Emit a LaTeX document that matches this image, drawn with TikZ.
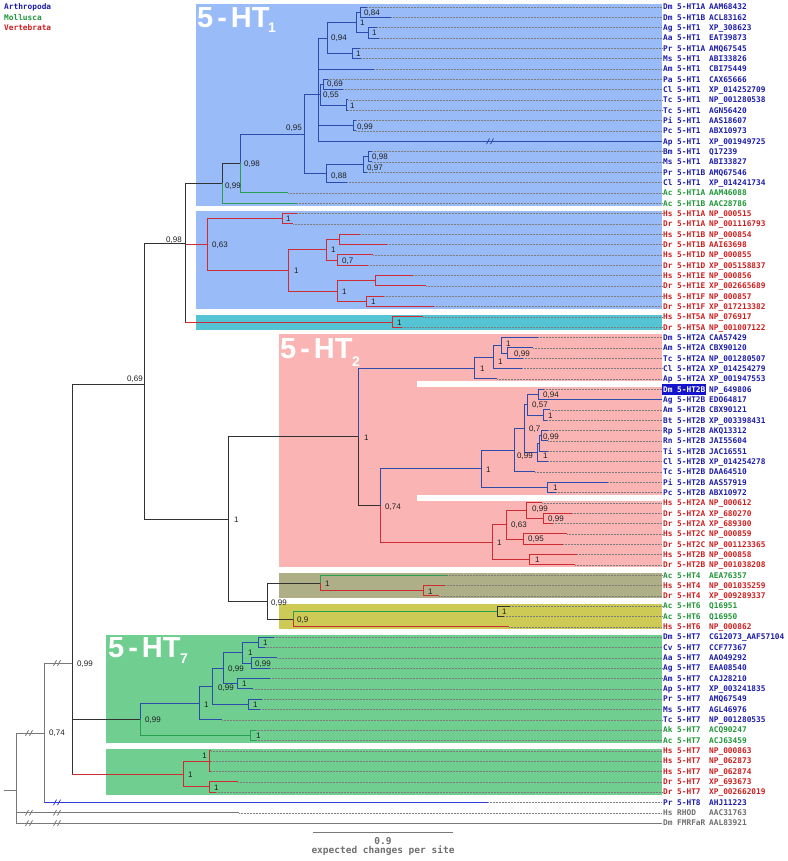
\documentclass[tikz,border=0pt]{standalone}
\usepackage{fontspec}
\setmainfont{Liberation Sans}
\newfontfamily\labfont{DejaVu Sans Mono}
\newfontfamily\titfont{Liberation Sans}
\definecolor{cA}{RGB}{28,28,170}
\definecolor{cM}{RGB}{30,150,55}
\definecolor{cV}{RGB}{205,30,30}
\definecolor{cG}{RGB}{110,110,110}
\definecolor{cHi}{RGB}{20,20,205}
\definecolor{bInv}{RGB}{45,75,170}
\definecolor{bVer}{RGB}{205,45,50}
\definecolor{bMol}{RGB}{40,160,80}
\definecolor{bBlk}{RGB}{50,50,50}
\definecolor{bGry}{RGB}{120,120,120}
\definecolor{bBl8}{RGB}{50,60,220}
\definecolor{cDot}{RGB}{125,125,125}
\definecolor{cSup}{RGB}{30,30,30}
\definecolor{boxB}{RGB}{153,187,247}
\definecolor{boxC}{RGB}{84,196,212}
\definecolor{boxP}{RGB}{250,180,180}
\definecolor{boxO}{RGB}{175,175,135}
\definecolor{boxY}{RGB}{205,203,85}
\definecolor{boxG}{RGB}{112,206,145}
\begin{document}
\begin{tikzpicture}[x=1pt,y=-1pt,
  brl/.style={line width=0.95pt},
  inv/.style={brl,draw=bInv},
  ver/.style={brl,draw=bVer},
  mol/.style={brl,draw=bMol},
  blk/.style={brl,draw=bBlk},
  gry/.style={brl,draw=bGry},
  bleight/.style={brl,draw=bBl8},
  dots/.style={draw=cDot,line width=0.45pt,dash pattern=on 0.5pt off 1pt},
  sup/.style={font=\fontsize{8}{9}\selectfont,text=cSup,inner sep=0pt,anchor=base west},
  supl/.style={sup,anchor=base east},
  lab/.style={font=\labfont\bfseries\fontsize{7.8}{9}\selectfont,inner sep=0pt,anchor=base west},
  tit/.style={font=\titfont\bfseries\fontsize{29}{30}\selectfont,text=white,inner sep=0pt,anchor=base west},
  tsub/.style={font=\titfont\bfseries\fontsize{14}{15}\selectfont,text=white,inner sep=0pt,anchor=base west},
  brk/.pic={\draw[pic actions] (-3.5,2.8)--(-0.5,-2.8) (0.5,2.8)--(3.5,-2.8);}
]
\useasboundingbox (0,0) rectangle (787,861);
% ---------- coloured clade boxes
\fill[boxB] (196,4) rectangle (662,206);
\fill[boxB] (196,211) rectangle (662,309);
\fill[boxC] (196,315) rectangle (662,330);
\fill[boxP] (279,334) rectangle (662,567);
\fill[white] (417,381) rectangle (662,387);
\fill[white] (417,495) rectangle (662,501);
\fill[boxO] (279,573) rectangle (662,598);
\fill[boxY] (279,604) rectangle (662,629);
\fill[boxG] (106,635) rectangle (662,743);
\fill[boxG] (106,749) rectangle (662,795);
% ---------- titles
\node[tit] (t1) at (197,27.5) {5\kern4pt-\kern4pt HT};
\node[tsub] (t1s) at (268,33) {1};
\node[tit] (t2) at (280,358.5) {5\kern4pt-\kern4pt HT};
\node[tsub] (t2s) at (352,366) {2};
\node[tit] (t7) at (108,657) {5\kern4pt-\kern4pt HT};
\node[tsub] (t7s) at (180,663) {7};
% ---------- leaves (branch ends and dotted guides)
\foreach \i/\ex in {1/367,2/391,3/377,4/379,5/360,6/361,7/374,8/328,9/343,10/348,11/348,12/356,13/356,14/662,15/372,16/372,17/367,18/347,19/288,20/297,
21/297,22/293,23/360,24/387,25/373,26/368,27/413,28/426,29/384,30/434,31/423,32/402,
33/538,34/533,35/523,36/522,37/497,38/544,39/662,40/550,41/547,42/548,43/548,44/548,45/548,46/535,47/608,48/556,
49/542,50/572,51/553,52/567,53/563,54/577,55/575,
56/447,57/445,58/439,59/510,60/504,61/509,
62/274,63/265,64/277,65/270,66/270,67/253,68/262,69/260,70/222,71/256,72/256,
73/211,74/211,75/211,76/238,77/216,78/488,79/239,80/662}
{
  \coordinate (L\i) at (\ex,{7+(\i-1)*10.33});
  \coordinate (E\i) at (662,{7+(\i-1)*10.33});
  \draw[dots] (L\i) -- (E\i);
}
% ---------- internal nodes
% 5-HT1 invertebrates
\coordinate (n84) at (360,12.2);
\coordinate (nAgAa) at (368,32.8);
\coordinate (nDm4) at (356,22.5);
\coordinate (nPrMs) at (352,53.5);
\coordinate (nE) at (327,38);
\coordinate (nPaCl) at (323,84.5);
\coordinate (nTcTc) at (346,105.1);
\coordinate (nF) at (320,94.8);
\coordinate (nPiPc) at (353,125.8);
\coordinate (nD) at (318,94);
\coordinate (nBmMs) at (368,156.8);
\coordinate (n97) at (363,164.5);
\coordinate (n88) at (326,173.5);
\coordinate (nC) at (304,134);
\coordinate (nB) at (240,163.5);
\coordinate (nA) at (222,183.4);
% 5-HT1 vertebrates, 5-HT5
\coordinate (n1A) at (282,218.8);
\coordinate (n1B) at (339,239.4);
\coordinate (n1D) at (337,260.1);
\coordinate (nBD) at (326,249.8);
\coordinate (n1E) at (375,280.8);
\coordinate (n1F) at (366,301.4);
\coordinate (nEF) at (337,291.1);
\coordinate (nBDEF) at (288,270.4);
\coordinate (n63) at (207,244.6);
\coordinate (n5) at (392,322.1);
\coordinate (n98) at (185,243);
\coordinate (n69) at (144,384);
% 5-HT2
\coordinate (nAmTc) at (507,353.1);
\coordinate (nDmAmTc) at (501,345.3);
\coordinate (nCl) at (493,357);
\coordinate (n2A) at (474,368);
\coordinate (n94) at (538,394.4);
\coordinate (nAmBt) at (543,415);
\coordinate (n57) at (527,404.7);
\coordinate (nRpRn) at (541,435.7);
\coordinate (nTi) at (539,443.5);
\coordinate (nS) at (537,452.5);
\coordinate (nR) at (524,428.6);
\coordinate (nP) at (514,450);
\coordinate (nPiPc2) at (547,487.3);
\coordinate (n481) at (481,468.7);
\coordinate (n2Adr) at (543,518.3);
\coordinate (nHs2A) at (526,510.6);
\coordinate (n2C) at (523,539);
\coordinate (n63b) at (506,524.8);
\coordinate (n2B) at (529,559.7);
\coordinate (nV2) at (492,542.2);
\coordinate (n74) at (380,505.5);
\coordinate (n2root) at (358,436.8);
\coordinate (n1big) at (228,519);
% 5-HT4, 5-HT6
\coordinate (n99b) at (267,601);
\coordinate (n4) at (320,583);
\coordinate (n4v) at (423,590.6);
\coordinate (n6ac) at (497,611.3);
\coordinate (n6) at (293,619);
% 5-HT7
\coordinate (nDmCv) at (258,642.3);
\coordinate (nAaAg) at (251,663);
\coordinate (n7a) at (242,652.6);
\coordinate (nAmAp) at (237,683.6);
\coordinate (n7b) at (223,668);
\coordinate (nPrMs7) at (248,704.3);
\coordinate (n7c) at (212,686);
\coordinate (n7d) at (199,703);
\coordinate (nMoll7) at (250,735.3);
\coordinate (n7inv) at (140,719);
\coordinate (nHs7) at (209,761.1);
\coordinate (nDr7) at (209,786.9);
\coordinate (nV7) at (183,774);
\coordinate (n99c) at (72,663);
\coordinate (n74root) at (44,733);
\coordinate (nRoot) at (16,790);
\coordinate (r0) at (4,790);
% ---------- branches
\foreach \p/\c/\s in {
 n84/L1/inv,n84/L2/inv,nAgAa/L3/inv,nAgAa/L4/inv,nDm4/n84/inv,nDm4/nAgAa/inv,nPrMs/L5/inv,nPrMs/L6/inv,
 nE/nDm4/inv,nE/nPrMs/inv,nPaCl/L8/inv,nPaCl/L9/inv,nTcTc/L10/inv,nTcTc/L11/inv,nF/nPaCl/inv,nF/nTcTc/inv,
 nPiPc/L12/inv,nPiPc/L13/inv,nD/nE/inv,nD/L7/inv,nD/nF/inv,nD/nPiPc/inv,nD/L14/inv,nBmMs/L15/inv,nBmMs/L16/inv,
 n97/nBmMs/inv,n97/L17/inv,n88/n97/inv,n88/L18/inv,nC/nD/inv,nC/n88/inv,nB/nC/inv,
 nB/L19/mol,nA/L20/mol,nA/nB/blk,n98/nA/blk,n69/n98/blk,n69/n1big/blk,n1big/n2root/blk,n1big/n99b/blk,
 n1A/L21/ver,n1A/L22/ver,n1B/L23/ver,n1B/L24/ver,n1D/L25/ver,n1D/L26/ver,nBD/n1B/ver,nBD/n1D/ver,
 n1E/L27/ver,n1E/L28/ver,n1F/L29/ver,n1F/L30/ver,nEF/n1E/ver,nEF/n1F/ver,nBDEF/nBD/ver,nBDEF/nEF/ver,
 n63/n1A/ver,n63/nBDEF/ver,n98/n63/ver,n98/n5/ver,n5/L31/ver,n5/L32/ver,
 nAmTc/L34/inv,nAmTc/L35/inv,nDmAmTc/L33/inv,nDmAmTc/nAmTc/inv,nCl/nDmAmTc/inv,nCl/L36/inv,n2A/nCl/inv,n2A/L37/inv,
 n2root/n2A/inv,n94/L38/inv,n94/L39/inv,nAmBt/L40/inv,nAmBt/L41/inv,n57/n94/inv,n57/nAmBt/inv,
 nRpRn/L42/inv,nRpRn/L43/inv,nTi/nRpRn/inv,nTi/L44/inv,nS/nTi/inv,nS/L45/inv,nR/n57/inv,nR/nS/inv,
 nP/nR/inv,nP/L46/inv,nPiPc2/L47/inv,nPiPc2/L48/inv,n481/nP/inv,n481/nPiPc2/inv,n74/n481/inv,
 n2Adr/L50/ver,n2Adr/L51/ver,nHs2A/L49/ver,nHs2A/n2Adr/ver,n2C/L52/ver,n2C/L53/ver,n63b/nHs2A/ver,n63b/n2C/ver,
 n2B/L54/ver,n2B/L55/ver,nV2/n63b/ver,nV2/n2B/ver,n74/nV2/ver,n2root/n74/blk,
 n99b/n4/blk,n99b/n6/blk,n4/L56/mol,n4/n4v/ver,n4v/L57/ver,n4v/L58/ver,n6/n6ac/mol,n6/L61/ver,n6ac/L59/blk,n6ac/L60/blk,
 nDmCv/L62/inv,nDmCv/L63/inv,nAaAg/L64/inv,nAaAg/L65/inv,n7a/nDmCv/inv,n7a/nAaAg/inv,nAmAp/L66/inv,nAmAp/L67/inv,
 n7b/n7a/inv,n7b/nAmAp/inv,nPrMs7/L68/inv,nPrMs7/L69/inv,n7c/n7b/inv,n7c/nPrMs7/inv,n7d/n7c/inv,n7d/L70/inv,n7inv/n7d/inv,
 n7inv/nMoll7/mol,nMoll7/L71/mol,nMoll7/L72/mol,
 nHs7/L73/ver,nHs7/L74/ver,nHs7/L75/ver,nDr7/L76/ver,nDr7/L77/ver,nV7/nHs7/ver,nV7/nDr7/ver,
 n99c/n69/blk,n99c/n7inv/blk,n99c/nV7/ver,
 n74root/n99c/gry,n74root/L78/bleight,nRoot/n74root/gry,nRoot/L79/gry,nRoot/L80/gry}
{ \draw[\s] (\p) |- (\c); }
\draw[blk] (n98) -- (n98 |- n5);
\draw[blk] (n99c) -- (n99c |- nV7);
\draw[gry] (n74root) -- (n74root |- L78);
\draw[gry] (r0) -- (nRoot);
% ---------- break marks
\pic[draw=bInv,line width=0.8pt] at (490,141.29) {brk};
\pic[draw=bGry,line width=0.8pt] at (29,733) {brk};
\pic[draw=bGry,line width=0.8pt] at (57,663) {brk};
\pic[draw=bBl8,line width=0.8pt] at (57,802.41) {brk};
\pic[draw=bGry,line width=0.8pt] at (29,812.74) {brk};
\pic[draw=bGry,line width=0.8pt] at (57,812.74) {brk};
\pic[draw=bGry,line width=0.8pt] at (29,823.07) {brk};
\pic[draw=bGry,line width=0.8pt] at (57,823.07) {brk};
% ---------- support values
\foreach \x/\y/\t [count=\k] in {
 364/12.2/{0,84},372/32.8/1,360/23/1,356/53.5/1,331/38/{0,94},327/84/{0,69},323/95/{0,55},350/105.5/1,
 357/126.5/{0,99},372/157/{0,98},367/168/{0,97},331/176/{0,88},244/164/{0,98},225/185.5/{0,99},
 286/219/1,331/250/1,342/261/{0,7},342/291.5/1,294/271/1,212/245/{0,63},371/302/1,397/322.5/1,
 364/437.5/1,480/369/1,498/362/1,506/344/1,514/354/{0,99},543/394.5/{0,94},532/405/{0,57},548/416/1,
 529/429/{0,7},543/437/{0,99},543/456/1,486/469.5/1,553/488/1,385/507/{0,74},532/509/{0,99},548/519/{0,99},
 511/525/{0,63},528/539/{0,95},497/543/1,535/559.5/1,234/519.5/1,
 271/602.5/{0,99},325/584/1,428/592/1,297/620/{0,9},502/612/1,
 77/663.5/{0,99},49/733/{0,74},145/720/{0,99},204/704.5/1,218/688/{0,99},228/669/{0,99},248/653/1,
 255/664/{0,99},263/643/1,242/684/1,253/704.5/1,256/736/1,214/788/1,188/775/1}
{ \node[sup] (s\k) at (\x,{\y+2.9}) {\t}; }
\foreach \x/\y/\t [count=\k] in {302/128/{0,95},143/379/{0,69},533/456/{0,99},207/755.5/1,182/240/{0,98}}
{ \node[supl] (sl\k) at (\x,{\y+2.9}) {\t}; }
% ---------- highlighted label background
\fill[cHi] (662,384) rectangle (706,394.5);
% ---------- tip labels
\foreach \i/\xc/\xs/\xr in {
1/cA/Dm/5-HT1A,2/cA/Dm/5-HT1B,3/cA/Ag/5-HT1,4/cA/Aa/5-HT1,
5/cA/Pr/5-HT1A,6/cA/Ms/5-HT1,7/cA/Am/5-HT1,8/cA/Pa/5-HT1,
9/cA/Cl/5-HT1,10/cA/Tc/5-HT1,11/cA/Tc/5-HT1,12/cA/Pi/5-HT1,
13/cA/Pc/5-HT1,14/cA/Ap/5-HT1,15/cA/Bm/5-HT1,16/cA/Ms/5-HT1,
17/cA/Pr/5-HT1B,18/cA/Cl/5-HT1,19/cM/Ac/5-HT1A,20/cM/Ac/5-HT1B,
21/cV/Hs/5-HT1A,22/cV/Dr/5-HT1A,23/cV/Hs/5-HT1B,24/cV/Dr/5-HT1B,
25/cV/Hs/5-HT1D,26/cV/Dr/5-HT1D,27/cV/Hs/5-HT1E,28/cV/Dr/5-HT1E,
29/cV/Hs/5-HT1F,30/cV/Dr/5-HT1F,31/cV/Hs/5-HT5A,32/cV/Dr/5-HT5A,
33/cA/Dm/5-HT2A,34/cA/Am/5-HT2A,35/cA/Tc/5-HT2A,36/cA/Cl/5-HT2A,
37/cA/Ap/5-HT2A,38/white/Dm/5-HT2B,39/cA/Ag/5-HT2B,40/cA/Am/5-HT2B,
41/cA/Bt/5-HT2B,42/cA/Rp/5-HT2B,43/cA/Rn/5-HT2B,44/cA/Ti/5-HT2B,
45/cA/Cl/5-HT2B,46/cA/Tc/5-HT2B,47/cA/Pi/5-HT2B,48/cA/Pc/5-HT2B,
49/cV/Hs/5-HT2A,50/cV/Dr/5-HT2A,51/cV/Dr/5-HT2A,52/cV/Hs/5-HT2C,
53/cV/Dr/5-HT2C,54/cV/Hs/5-HT2B,55/cV/Dr/5-HT2B,
56/cM/Ac/5-HT4,57/cV/Hs/5-HT4,58/cV/Dr/5-HT4,
59/cM/Ac/5-HT6,60/cM/Ac/5-HT6,61/cV/Hs/5-HT6,
62/cA/Dm/5-HT7,63/cA/Cv/5-HT7,64/cA/Aa/5-HT7,65/cA/Ag/5-HT7,
66/cA/Am/5-HT7,67/cA/Ap/5-HT7,68/cA/Pr/5-HT7,69/cA/Ms/5-HT7,
70/cA/Tc/5-HT7,71/cM/Ak/5-HT7,72/cM/Ac/5-HT7,
73/cV/Hs/5-HT7,74/cV/Hs/5-HT7,75/cV/Hs/5-HT7,76/cV/Dr/5-HT7,
77/cV/Dr/5-HT7,78/cA/Pr/5-HT8,79/cG/Hs/RHOD,80/cG/Dm/FMRFaR}
{
  \node[lab,text=\xc] (sp\i) at (663,{9.85+(\i-1)*10.33}) {\xs};
  \node[lab,text=\xc] (rc\i) at (677,{9.85+(\i-1)*10.33}) {\xr};
}
\foreach \i/\xc/\xa in {
1/cA/AAM68432,2/cA/ACL83162,3/cA/XP\_308623,4/cA/EAT39873,5/cA/AMQ67545,6/cA/ABI33826,7/cA/CBI75449,8/cA/CAX65666,
9/cA/XP\_014252709,10/cA/NP\_001280538,11/cA/AGN56420,12/cA/AAS18607,13/cA/ABX10973,14/cA/XP\_001949725,15/cA/Q17239,16/cA/ABI33827,
17/cA/AMQ67546,18/cA/XP\_014241734,19/cM/AAM46088,20/cM/AAC28786,21/cV/NP\_000515,22/cV/NP\_001116793,23/cV/NP\_000854,24/cV/AAI63698,
25/cV/NP\_000855,26/cV/XP\_005158837,27/cV/NP\_000856,28/cV/XP\_002665689,29/cV/NP\_000857,30/cV/XP\_017213382,31/cV/NP\_076917,32/cV/NP\_001007122,
33/cA/CAA57429,34/cA/CBX90120,35/cA/NP\_001280507,36/cA/XP\_014254279,37/cA/XP\_001947553,38/cA/NP\_649806,39/cA/EDO64817,40/cA/CBX90121,
41/cA/XP\_003398431,42/cA/AKQ13312,43/cA/JAI55604,44/cA/JAC16551,45/cA/XP\_014254278,46/cA/DAA64510,47/cA/AAS57919,48/cA/ABX10972,
49/cV/NP\_000612,50/cV/XP\_680270,51/cV/XP\_689300,52/cV/NP\_000859,53/cV/NP\_001123365,54/cV/NP\_000858,55/cV/NP\_001038208,
56/cM/AEA76357,57/cV/NP\_001035259,58/cV/XP\_009289337,59/cM/Q16951,60/cM/Q16950,61/cV/NP\_000862,
62/cA/CG12073\_AAF57104,63/cA/CCF77367,64/cA/AAO49292,65/cA/EAA08540,66/cA/CAJ28210,67/cA/XP\_003241835,68/cA/AMQ67549,69/cA/AGL46976,
70/cA/NP\_001280535,71/cM/ACQ90247,72/cM/ACJ63459,73/cV/NP\_000863,74/cV/NP\_062873,75/cV/NP\_062874,76/cV/XP\_693673,
77/cV/XP\_002662019,78/cA/AHJ11223,79/cG/AAC31763,80/cG/AAL83921}
{
  \node[lab,text=\xc] (ac\i) at (709,{9.85+(\i-1)*10.33}) {\xa};
}
% ---------- legend
\node[lab,text=cA] (legA) at (4,9.85) {Arthropoda};
\node[lab,text=cM] (legM) at (4,20.2) {Mollusca};
\node[lab,text=cV] (legV) at (4,30.5) {Vertebrata};
% ---------- scale bar
\coordinate (sb1) at (313,832.5);
\coordinate (sb2) at (453,832.5);
\draw[draw=bGry,line width=1pt] (sb1) -- (sb2);
\node[font=\labfont\bfseries\fontsize{9.5}{10}\selectfont,text=cG,inner sep=0pt,anchor=base] (sbv) at (383,844) {0.9};
\node[font=\labfont\bfseries\fontsize{9.5}{10}\selectfont,text=cG,inner sep=0pt,anchor=base] (sbt) at (383,853) {expected changes per site};
\end{tikzpicture}
\end{document}
